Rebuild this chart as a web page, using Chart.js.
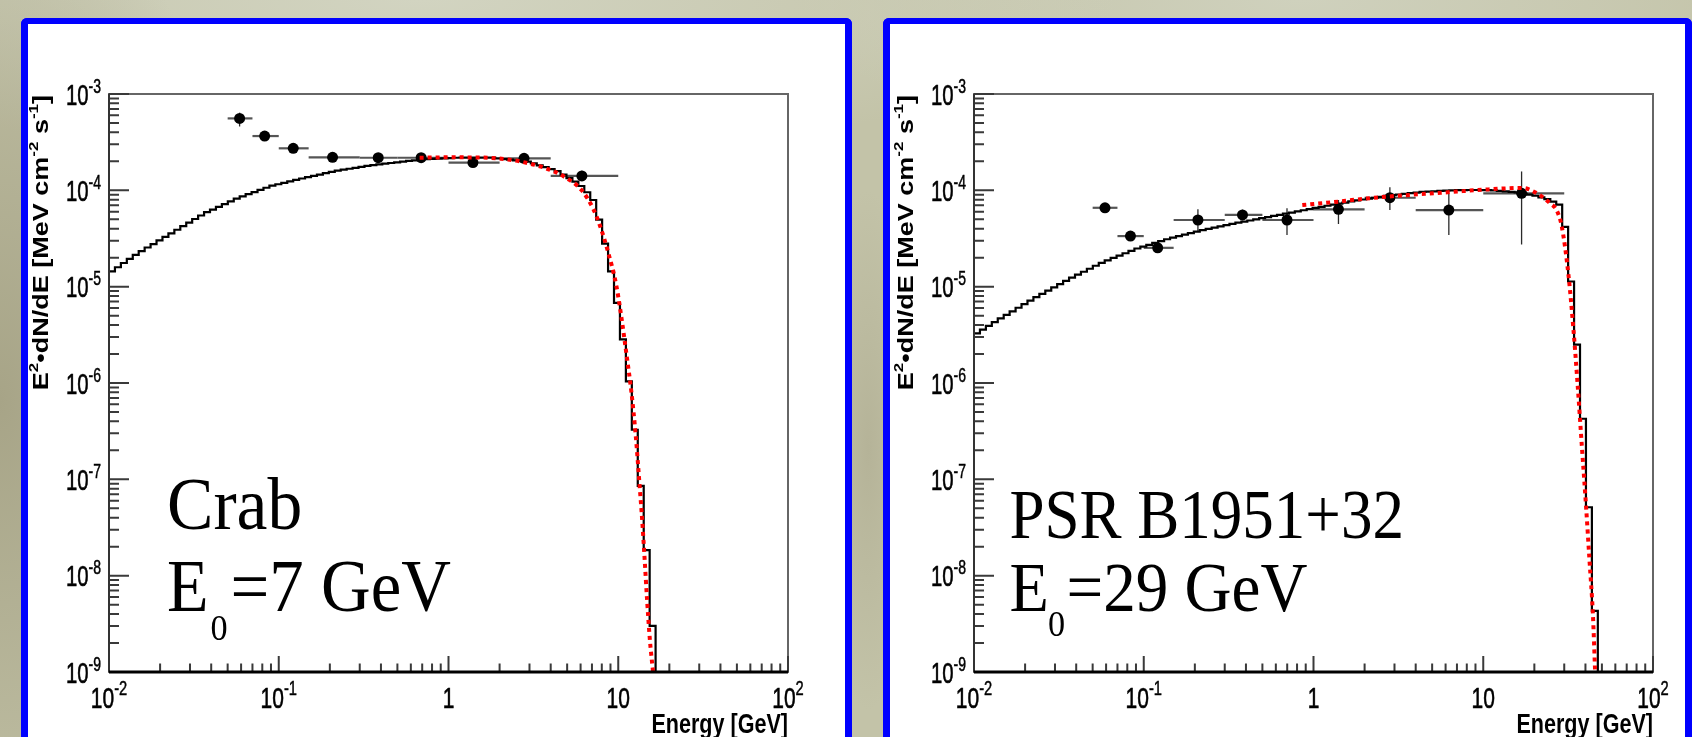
<!DOCTYPE html>
<html lang="en">
<head>
<meta charset="UTF-8">
<title>Pulsar spectra - Crab / PSR B1951+32</title>
<style>
    html, body { margin: 0; padding: 0; }
    body {
        width: 1692px; height: 737px; overflow: hidden; position: relative;
        background-color: #c3c3a8;
        background-image:
            radial-gradient(260px 520px at 0px 400px, #a7a487 0%, rgba(167,164,135,0) 100%),
            radial-gradient(700px 160px at 420px 0px, #d2d4c1 0%, rgba(210,212,193,0) 100%),
            radial-gradient(500px 160px at 1300px 0px, #cfd1bd 0%, rgba(207,209,189,0) 100%),
            radial-gradient(50px 260px at 868px 450px, #b5b398 0%, rgba(181,179,152,0) 100%);
    }
    .panel {
        position: absolute; top: 18px; height: 740px; background: #fff;
        border: 6px solid #0000ff; border-left-width: 7px; border-right-width: 7px;
        border-bottom: none; border-radius: 6px 6px 0 0;
    }
    #leftPanel { left: 21px; width: 817px; }
    #rightPanel { left: 883px; width: 795px; }
    canvas { position: absolute; left: 0; top: 0; }
</style>
</head>
<body>
    <div class="panel" id="leftPanel"><canvas id="crabChart" width="817" height="713"></canvas></div>
    <div class="panel" id="rightPanel"><canvas id="psrChart" width="795" height="713"></canvas></div>

<script src="https://cdn.jsdelivr.net/npm/chart.js"></script>
<script>
    // axis ticks
    const yTickExps = [-9, -8, -7, -6, -5, -4, -3];
    const xTickVals = [0.01, 0.1, 1, 10, 100];
    const xTickBase = ['10', '10', '1', '10', '10'];
    const xTickSup = ['-2', '-1', '', '', '2'];

    // model histogram bins: log10(E/GeV) from -2 in steps of 0.035
    const histLogStart = -2;
    const histLogWidth = 0.035;

    // Crab: E^2 dN/dE per bin [MeV cm^-2 s^-1]
    const crabHist = [
        1.44e-5, 1.59e-5, 1.76e-5, 1.94e-5, 2.14e-5, 2.34e-5, 2.55e-5, 2.77e-5, 3.02e-5, 3.29e-5,
        3.58e-5, 3.90e-5, 4.25e-5, 4.62e-5, 5.04e-5, 5.48e-5, 5.93e-5, 6.32e-5, 6.75e-5, 7.19e-5,
        7.69e-5, 8.20e-5, 8.67e-5, 9.12e-5, 9.59e-5, 1.012e-4, 1.064e-4, 1.117e-4, 1.156e-4, 1.197e-4,
        1.239e-4, 1.282e-4, 1.327e-4, 1.371e-4, 1.416e-4, 1.459e-4, 1.507e-4, 1.552e-4, 1.600e-4, 1.637e-4,
        1.675e-4, 1.714e-4, 1.754e-4, 1.791e-4, 1.828e-4, 1.858e-4, 1.892e-4, 1.923e-4, 1.954e-4, 1.986e-4,
        2.018e-4, 2.051e-4, 2.084e-4, 2.104e-4, 2.118e-4, 2.133e-4, 2.148e-4, 2.163e-4, 2.178e-4, 2.183e-4,
        2.186e-4, 2.188e-4, 2.188e-4, 2.186e-4, 2.182e-4, 2.148e-4, 2.113e-4, 2.080e-4, 2.046e-4, 2.014e-4,
        1.982e-4, 1.901e-4, 1.820e-4, 1.738e-4, 1.663e-4, 1.581e-4, 1.455e-4, 1.340e-4, 1.233e-4, 1.109e-4,
        9.55e-5, 7.94e-5, 4.97e-5, 2.80e-5, 1.44e-5, 6.78e-6, 2.84e-6, 1.04e-6, 3.27e-7, 8.55e-8,
        1.84e-8, 3.01e-9
    ];
    const crabFitE = [0.676, 1.0, 1.585, 2.239, 2.692, 3.758, 4.786, 6.095, 7.112, 7.78, 8.71, 9.75,
        10.45, 11.17, 11.97, 12.68, 13.27, 13.9, 14.32, 14.79, 15.35, 16.03];
    const crabFitF = [2.18e-4, 2.20e-4, 2.19e-4, 2.09e-4, 1.98e-4, 1.69e-4, 1.39e-4, 1.0e-4, 6.46e-5, 4.37e-5, 2.29e-5, 1.02e-5,
        4.73e-6, 2.01e-6, 7.87e-7, 2.83e-7, 1.01e-7, 3.34e-8, 1.43e-8, 5.57e-9, 2.18e-9, 1.0e-9];
    const crabPtE = [0.0588, 0.0826, 0.1217, 0.2075, 0.3855, 0.690, 1.393, 2.786, 6.105];
    const crabPtF = [5.58e-4, 3.66e-4, 2.73e-4, 2.20e-4, 2.18e-4, 2.18e-4, 1.94e-4, 2.15e-4, 1.41e-4];
    const crabPtELo = [0.05, 0.07, 0.1, 0.15, 0.3, 0.5, 1, 2, 4];
    const crabPtEHi = [0.07, 0.1, 0.15, 0.3, 0.5, 1, 2, 4, 10];
    const crabPtFLo = [4.6e-4, 3.3e-4, 2.5e-4, 2.0e-4, 2.0e-4, 2.0e-4, 1.75e-4, 1.95e-4, 1.25e-4];
    const crabPtFHi = [6.4e-4, 4.0e-4, 3.0e-4, 2.4e-4, 2.4e-4, 2.4e-4, 2.15e-4, 2.4e-4, 1.6e-4];

    // PSR B1951+32
    const psrHist = [
        3.28e-6, 3.59e-6, 3.92e-6, 4.28e-6, 4.68e-6, 5.09e-6, 5.55e-6, 6.04e-6, 6.58e-6, 7.16e-6,
        7.78e-6, 8.41e-6, 9.10e-6, 9.84e-6, 1.064e-5, 1.151e-5, 1.242e-5, 1.334e-5, 1.429e-5, 1.535e-5,
        1.648e-5, 1.770e-5, 1.879e-5, 1.986e-5, 2.104e-5, 2.223e-5, 2.355e-5, 2.489e-5, 2.600e-5, 2.716e-5,
        2.844e-5, 2.972e-5, 3.105e-5, 3.236e-5, 3.350e-5, 3.467e-5, 3.597e-5, 3.724e-5, 3.855e-5, 3.981e-5,
        4.102e-5, 4.227e-5, 4.355e-5, 4.487e-5, 4.613e-5, 4.742e-5, 4.864e-5, 5.000e-5, 5.140e-5, 5.272e-5,
        5.420e-5, 5.572e-5, 5.728e-5, 5.875e-5, 6.039e-5, 6.209e-5, 6.383e-5, 6.561e-5, 6.730e-5, 6.918e-5,
        7.096e-5, 7.278e-5, 7.464e-5, 7.674e-5, 7.870e-5, 8.035e-5, 8.204e-5, 8.375e-5, 8.570e-5, 8.750e-5,
        8.913e-5, 9.057e-5, 9.183e-5, 9.333e-5, 9.462e-5, 9.616e-5, 9.705e-5, 9.772e-5, 9.863e-5, 9.931e-5,
        1.000e-4, 1.005e-4, 1.007e-4, 1.008e-4, 1.008e-4, 1.007e-4, 1.005e-4, 1.000e-4, 9.886e-5, 9.772e-5,
        9.638e-5, 9.528e-5, 9.268e-5, 9.016e-5, 8.790e-5, 8.453e-5, 8.110e-5, 7.638e-5, 7.112e-5, 4.178e-5,
        1.132e-5, 2.500e-6, 4.256e-7, 5.129e-8, 4.305e-9
    ];
    const psrFitE = [0.859, 1.435, 1.683, 2.825, 5.623, 10.72, 16.98, 20.70, 24.77, 27.16, 29.04, 31.77,
        33.96, 35.89, 38.11, 40.36, 42.27, 44.26, 45.6];
    const psrFitF = [7.03e-5, 7.67e-5, 7.93e-5, 8.65e-5, 9.44e-5, 1.023e-4, 1.059e-4, 9.31e-5, 7.33e-5, 6.14e-5, 4.18e-5, 1.32e-5,
        3.66e-6, 1.02e-6, 2.19e-7, 5.13e-8, 1.43e-8, 3.95e-9, 1.01e-9];
    const psrPtE = [0.0591, 0.0835, 0.1208, 0.2085, 0.3816, 0.698, 1.403, 2.818, 6.27, 16.82];
    const psrPtF = [6.59e-5, 3.35e-5, 2.53e-5, 4.92e-5, 5.55e-5, 4.92e-5, 6.35e-5, 8.38e-5, 6.24e-5, 9.31e-5];
    const psrPtELo = [0.05, 0.07, 0.1, 0.15, 0.3, 0.5, 1, 2, 4, 10];
    const psrPtEHi = [0.07, 0.1, 0.15, 0.3, 0.5, 1, 2, 4, 10, 30];
    const psrPtFLo = [6.0e-5, 3.0e-5, 2.3e-5, 3.72e-5, 4.9e-5, 3.44e-5, 4.47e-5, 6.24e-5, 3.44e-5, 2.74e-5];
    const psrPtFHi = [7.2e-5, 3.7e-5, 2.8e-5, 6.35e-5, 6.3e-5, 6.5e-5, 7.94e-5, 1.074e-4, 9.16e-5, 1.57e-4];

    const SANS = '"Liberation Sans", Arial, Helvetica, sans-serif';
    const SERIF = '"Liberation Serif", "Times New Roman", serif';
    const LABEL_SX = 0.7;

    function histPoints(values) {
        let pts = values.map((v, k) => ({ x: Math.pow(10, histLogStart + histLogWidth * k), y: v }));
        pts.push({ x: Math.pow(10, histLogStart + histLogWidth * values.length), y: 1e-9 });
        return pts;
    }

    function pairs(xs, ys) {
        return xs.map((x, i) => ({ x: x, y: ys[i] }));
    }

    function textW(ctx, text, font) {
        ctx.font = font;
        return ctx.measureText(text).width;
    }

    // text squeezed horizontally like the original plot; heavy adds a thin outline
    function drawScaled(ctx, text, x, y, font, sx, align, heavy) {
        ctx.save();
        ctx.translate(x, y);
        ctx.scale(sx, 1);
        ctx.font = font;
        ctx.textAlign = align || 'left';
        ctx.textBaseline = 'alphabetic';
        ctx.fillText(text, 0, 0);
        if (heavy) {
            ctx.lineWidth = heavy;
            ctx.strokeStyle = ctx.fillStyle;
            ctx.strokeText(text, 0, 0);
        }
        ctx.restore();
    }

    // ROOT-like frame, inward ticks, labels, error bars and the big annotation
    function rootStyle(pts, notes) {
        return {
            id: 'rootStyle',
            beforeDatasetsDraw(chart) {
                let { ctx, chartArea: a, scales: { x, y } } = chart;
                ctx.save();
                ctx.beginPath();
                ctx.rect(a.left, a.top, a.right - a.left, a.bottom - a.top);
                ctx.clip();
                pts.e.forEach((e, i) => {
                    let px = x.getPixelForValue(e);
                    let py = y.getPixelForValue(pts.f[i]);
                    ctx.strokeStyle = '#555';
                    ctx.lineWidth = 2.2;
                    ctx.beginPath();
                    ctx.moveTo(x.getPixelForValue(pts.eLo[i]), py);
                    ctx.lineTo(x.getPixelForValue(pts.eHi[i]), py);
                    ctx.stroke();
                    ctx.strokeStyle = '#2a2a2a';
                    ctx.lineWidth = 1.3;
                    ctx.beginPath();
                    ctx.moveTo(px, y.getPixelForValue(pts.fLo[i]));
                    ctx.lineTo(px, y.getPixelForValue(pts.fHi[i]));
                    ctx.stroke();
                });
                ctx.restore();
            },
            afterDraw(chart) {
                let { ctx, chartArea: a, scales: { x, y } } = chart;
                ctx.save();

                // frame
                ctx.strokeStyle = '#666';
                ctx.lineWidth = 2;
                ctx.strokeRect(a.left, a.top, a.right - a.left, a.bottom - a.top);

                // ticks
                ctx.strokeStyle = '#3a3a3a';
                ctx.lineWidth = 2;
                ctx.beginPath();
                yTickExps.forEach(d => {
                    let py = y.getPixelForValue(Math.pow(10, d));
                    ctx.moveTo(a.left, py);
                    ctx.lineTo(a.left + 20, py);
                    if (d < yTickExps[yTickExps.length - 1]) {
                        for (let m = 2; m <= 9; m++) {
                            let q = y.getPixelForValue(m * Math.pow(10, d));
                            ctx.moveTo(a.left, q);
                            ctx.lineTo(a.left + 10, q);
                        }
                    }
                });
                xTickVals.forEach((v, i) => {
                    let px = x.getPixelForValue(v);
                    ctx.moveTo(px, a.bottom);
                    ctx.lineTo(px, a.bottom - 16);
                    if (i < xTickVals.length - 1) {
                        for (let m = 2; m <= 9; m++) {
                            let q = x.getPixelForValue(m * v);
                            ctx.moveTo(q, a.bottom);
                            ctx.lineTo(q, a.bottom - 8.5);
                        }
                    }
                });
                ctx.stroke();

                // axis lines
                ctx.strokeStyle = '#333';
                ctx.lineWidth = 2;
                ctx.beginPath();
                ctx.moveTo(a.left, a.top);
                ctx.lineTo(a.left, a.bottom);
                ctx.stroke();
                ctx.strokeStyle = '#000';
                ctx.lineWidth = 3;
                ctx.beginPath();
                ctx.moveTo(a.left, a.bottom);
                ctx.lineTo(a.right, a.bottom);
                ctx.stroke();

                ctx.fillStyle = '#000';

                // y tick labels 10^n
                let fBase = '29px ' + SANS, fSup = '20px ' + SANS;
                yTickExps.forEach(d => {
                    let py = y.getPixelForValue(Math.pow(10, d));
                    let sup = String(d);
                    let wSup = textW(ctx, sup, fSup) * LABEL_SX;
                    let wBase = textW(ctx, '10', fBase) * LABEL_SX;
                    let xEnd = a.left - 8;
                    drawScaled(ctx, '10', xEnd - wSup - wBase, py + 10.5, fBase, LABEL_SX, 'left', 0.6);
                    drawScaled(ctx, sup, xEnd - wSup, py - 1.5, fSup, LABEL_SX, 'left', 0.5);
                });

                // x tick labels
                let fxBase = '30px ' + SANS, fxSup = '21px ' + SANS;
                xTickVals.forEach((v, i) => {
                    let px = x.getPixelForValue(v);
                    let wB = textW(ctx, xTickBase[i], fxBase) * LABEL_SX;
                    let wS = xTickSup[i] ? textW(ctx, xTickSup[i], fxSup) * LABEL_SX : 0;
                    let x0 = px - (wB + wS) / 2;
                    drawScaled(ctx, xTickBase[i], x0, a.bottom + 36, fxBase, LABEL_SX, 'left', 0.6);
                    if (xTickSup[i]) drawScaled(ctx, xTickSup[i], x0 + wB, a.bottom + 23, fxSup, LABEL_SX, 'left', 0.5);
                });

                // x title
                drawScaled(ctx, 'Energy [GeV]', a.right, a.bottom + 61, 'bold 28px ' + SANS, 0.77, 'right');

                // y title, rotated, aligned to the top of the axis
                let parts = [['E', 0], ['2', 1], ['\u2022dN/dE [MeV cm', 0], ['-2', 1], [' s', 0], ['-1', 1], [']', 0]];
                let tMain = 'bold 27px ' + SANS, tSup = 'bold 17px ' + SANS;
                let len = 0;
                parts.forEach(p => { len += textW(ctx, p[0], p[1] ? tSup : tMain); });
                ctx.save();
                ctx.translate(a.left - 61, a.top + 1 + len);
                ctx.rotate(-Math.PI / 2);
                ctx.scale(1, 0.8);
                ctx.textBaseline = 'alphabetic';
                ctx.textAlign = 'left';
                let cx = 0;
                parts.forEach(p => {
                    ctx.font = p[1] ? tSup : tMain;
                    ctx.fillText(p[0], cx, p[1] ? -12 : 0);
                    cx += ctx.measureText(p[0]).width;
                });
                ctx.restore();

                // source name and cutoff energy
                notes.forEach(n => {
                    drawScaled(ctx, n.t, a.left + n.dx, a.top + n.dy, n.size + 'px ' + SERIF, n.sx);
                });

                ctx.restore();
            }
        };
    }

    function makePanel(canvasId, hist, fitE, fitF, pts, notes, padding) {
        let ctx = document.getElementById(canvasId);
        new Chart(ctx, {
            type: 'line',
            data: {
                datasets: [{
                    label: 'fit',
                    data: pairs(fitE, fitF),
                    borderColor: '#ff0000',
                    borderWidth: 4,
                    borderDash: [4, 4],
                    pointRadius: 0,
                    cubicInterpolationMode: 'monotone',
                    fill: false,
                    order: 0
                }, {
                    label: 'data',
                    data: pairs(pts.e, pts.f),
                    showLine: false,
                    pointRadius: 5.5,
                    pointHoverRadius: 5.5,
                    pointBackgroundColor: '#000',
                    pointBorderWidth: 0,
                    order: 1
                }, {
                    label: 'model',
                    data: histPoints(hist),
                    borderColor: '#000',
                    borderWidth: 2.2,
                    stepped: 'before',
                    pointRadius: 0,
                    fill: false,
                    order: 2
                }]
            },
            options: {
                responsive: false,
                animation: false,
                devicePixelRatio: 1,
                events: [],
                layout: { padding: padding },
                plugins: { legend: { display: false }, tooltip: { enabled: false } },
                scales: {
                    x: { type: 'logarithmic', min: 0.01, max: 100, display: false },
                    y: { type: 'logarithmic', min: 1e-9, max: 1e-3, display: false }
                }
            },
            plugins: [rootStyle(pts, notes)]
        });
    }

    makePanel('crabChart', crabHist, crabFitE, crabFitF,
        { e: crabPtE, f: crabPtF, eLo: crabPtELo, eHi: crabPtEHi, fLo: crabPtFLo, fHi: crabPtFHi },
        [
            { t: 'Crab', dx: 58, dy: 435, size: 74, sx: 0.94 },
            { t: 'E', dx: 58, dy: 517, size: 74, sx: 0.92 },
            { t: '0', dx: 101.5, dy: 545.5, size: 36, sx: 0.95 },
            { t: '=7 GeV', dx: 121.5, dy: 517, size: 74, sx: 0.93 }
        ],
        { left: 81, top: 70, right: 57, bottom: 65 });

    makePanel('psrChart', psrHist, psrFitE, psrFitF,
        { e: psrPtE, f: psrPtF, eLo: psrPtELo, eHi: psrPtEHi, fLo: psrPtFLo, fHi: psrPtFHi },
        [
            { t: 'PSR B1951+32', dx: 35.5, dy: 444, size: 70, sx: 0.9 },
            { t: 'E', dx: 35.5, dy: 517, size: 70, sx: 0.92 },
            { t: '0', dx: 74, dy: 542, size: 36, sx: 0.95 },
            { t: '=29 GeV', dx: 92.5, dy: 517, size: 70, sx: 0.93 }
        ],
        { left: 84, top: 70, right: 32, bottom: 65 });
</script>
</body>
</html>
